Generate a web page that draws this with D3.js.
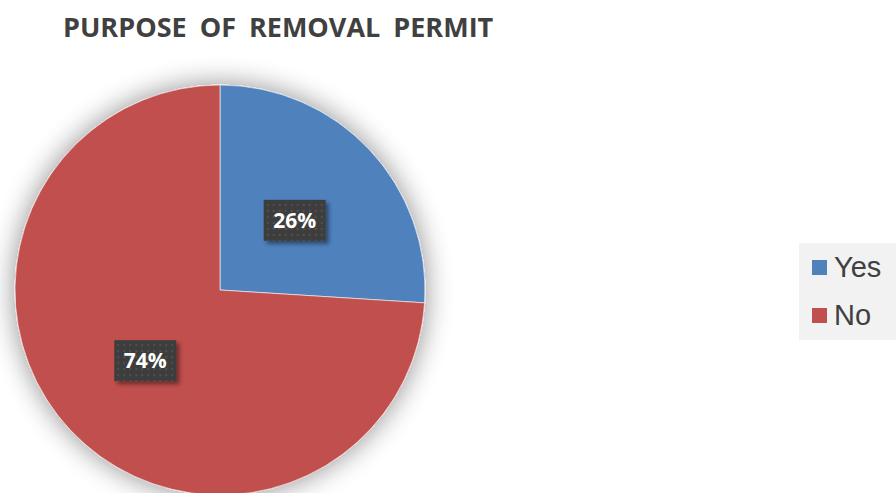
<!DOCTYPE html>
<html>
<head>
<meta charset="utf-8">
<script src="https://cdn.jsdelivr.net/npm/d3@7"></script>
<style>
  body { margin: 0; background: #fff; }
  svg { display: block; }
</style>
</head>
<body>
<div id="chart"></div>
<script>
// data
var categories = ["Yes", "No"];
var values = [26, 74];
var colors = ["#4f81bd", "#c0504d"];
var chartTitle = "PURPOSE OF REMOVAL PERMIT";

var width = 896,
  height = 493;

var svg = d3
  .select("#chart")
  .append("svg")
  .attr("width", width)
  .attr("height", height);

var defs = svg.append("defs");

// soft glow round the pie
var glow = defs.append("filter").attr("id", "glow")
  .attr("x", "-20%").attr("y", "-20%").attr("width", "140%").attr("height", "140%");
glow.append("feGaussianBlur").attr("in", "SourceAlpha").attr("stdDeviation", 14).attr("result", "b");
glow.append("feComponentTransfer").attr("in", "b").attr("result", "s")
  .append("feFuncA").attr("type", "linear").attr("slope", 0.45);
var gm = glow.append("feMerge");
gm.append("feMergeNode").attr("in", "s");
gm.append("feMergeNode").attr("in", "SourceGraphic");

// label box shadow
var lsh = defs.append("filter").attr("id", "lsh")
  .attr("x", "-30%").attr("y", "-30%").attr("width", "160%").attr("height", "160%");
lsh.append("feGaussianBlur").attr("in", "SourceAlpha").attr("stdDeviation", 2).attr("result", "b");
lsh.append("feOffset").attr("in", "b").attr("dx", 3).attr("dy", 3).attr("result", "o");
lsh.append("feComponentTransfer").attr("in", "o").attr("result", "s")
  .append("feFuncA").attr("type", "linear").attr("slope", 0.45);
var lm = lsh.append("feMerge");
lm.append("feMergeNode").attr("in", "s");
lm.append("feMergeNode").attr("in", "SourceGraphic");

// dotted texture for the label boxes
var pat = defs.append("pattern").attr("id", "dots")
  .attr("patternUnits", "userSpaceOnUse").attr("width", 6).attr("height", 6);
pat.append("rect").attr("width", 6).attr("height", 6).attr("fill", "#3d3d3d");
pat.append("circle").attr("cx", 3).attr("cy", 3).attr("r", 1.1).attr("fill", "#555");

// title
svg.append("text")
  .attr("x", 63)
  .attr("y", 37)
  .style("font-family", "'Open Sans', sans-serif")
  .style("font-weight", "bold")
  .style("font-size", "27px")
  .style("word-spacing", "6px")
  .attr("fill", "#404040")
  .text(chartTitle);

var cx = 220,
  cy = 290,
  radius = 205;

var pie = d3.pie().sort(null).value(function (d, i) { return values[i]; });
var arcs = pie(categories);

var arc = d3.arc().innerRadius(0).outerRadius(radius);

var g = svg.append("g").attr("transform", "translate(" + cx + "," + cy + ")");

g.append("g")
  .attr("filter", "url(#glow)")
  .selectAll("path")
  .data(arcs)
  .enter()
  .append("path")
  .attr("d", arc)
  .attr("fill", function (d, i) { return colors[i]; })
  .attr("stroke", "#fff")
  .attr("stroke-width", 0.6);

// data labels
var labels = g.selectAll(".lbl")
  .data(arcs)
  .enter()
  .append("g")
  .attr("class", "lbl")
  .attr("transform", function (d) { return "translate(" + arc.centroid(d) + ")"; });

labels.append("rect")
  .attr("x", -31)
  .attr("y", -20)
  .attr("width", 62)
  .attr("height", 41)
  .attr("fill", "url(#dots)")
  .attr("filter", "url(#lsh)");

labels.append("text")
  .attr("text-anchor", "middle")
  .attr("y", 8)
  .style("font-family", "'Open Sans', sans-serif")
  .style("font-weight", "bold")
  .style("font-size", "21px")
  .attr("fill", "#fff")
  .text(function (d, i) { return values[i] + "%"; });

// legend
var legend = svg.append("g").attr("transform", "translate(799,243)");
legend.append("rect")
  .attr("width", 97)
  .attr("height", 97)
  .attr("fill", "#f2f2f2");

var item = legend.selectAll(".item")
  .data(categories)
  .enter()
  .append("g")
  .attr("class", "item")
  .attr("transform", function (d, i) { return "translate(13," + (17 + i * 48) + ")"; });

item.append("rect")
  .attr("width", 15)
  .attr("height", 15)
  .attr("fill", function (d, i) { return colors[i]; });

item.append("text")
  .attr("x", 22)
  .attr("y", 17)
  .style("font-family", "'Liberation Sans', Arial, sans-serif")
  .style("font-size", "29px")
  .attr("fill", "#404040")
  .text(function (d) { return d; });
</script>
</body>
</html>
